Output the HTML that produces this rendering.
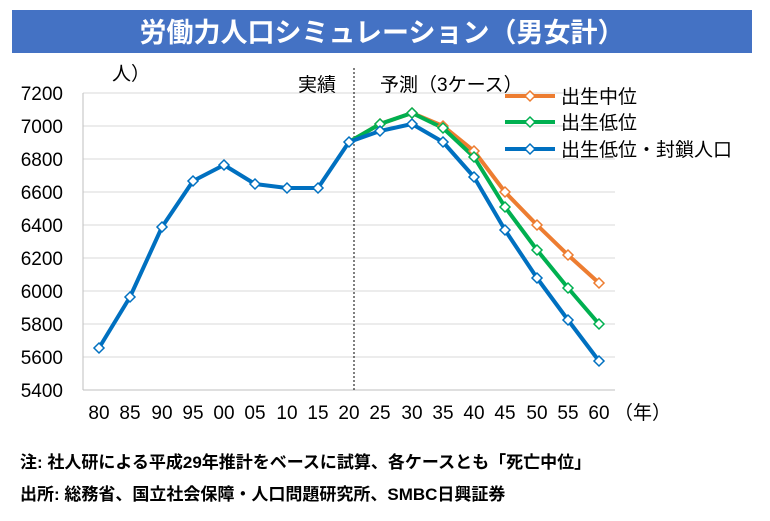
<!DOCTYPE html>
<html><head><meta charset="utf-8"><style>
body{margin:0;width:770px;height:516px;background:#fff;overflow:hidden;font-family:"Liberation Sans","Noto Sans CJK JP",sans-serif}
</style></head><body>
<svg width="770" height="516" xmlns="http://www.w3.org/2000/svg" font-family="Liberation Sans, Noto Sans CJK JP, sans-serif">
<rect x="12" y="10" width="740" height="43" fill="#4472C4"/>
<text x="382" y="42" text-anchor="middle" font-size="27" font-weight="bold" fill="#fff">労働力人口シミュレーション（男女計）</text>
<g stroke="#d9d9d9" stroke-width="1">
<line x1="83" x2="615" y1="93" y2="93"/><line x1="83" x2="615" y1="126" y2="126"/><line x1="83" x2="615" y1="159" y2="159"/><line x1="83" x2="615" y1="192" y2="192"/><line x1="83" x2="615" y1="225" y2="225"/><line x1="83" x2="615" y1="258" y2="258"/><line x1="83" x2="615" y1="291" y2="291"/><line x1="83" x2="615" y1="324" y2="324"/><line x1="83" x2="615" y1="357" y2="357"/>
</g>
<line x1="83" x2="615" y1="390" y2="390" stroke="#bfbfbf"/>
<line x1="83" x2="83" y1="93" y2="390" stroke="#bfbfbf"/>
<line x1="354" x2="354" y1="68" y2="390" stroke="#000" stroke-dasharray="2,2"/>
<g font-size="19" fill="#000" text-anchor="end">
<text x="63" y="100">7200</text><text x="63" y="133">7000</text><text x="63" y="166">6800</text><text x="63" y="199">6600</text><text x="63" y="232">6400</text><text x="63" y="265">6200</text><text x="63" y="298">6000</text><text x="63" y="331">5800</text><text x="63" y="364">5600</text><text x="63" y="397">5400</text>
</g>
<g font-size="19" text-anchor="middle">
<text x="99" y="419">80</text><text x="130" y="419">85</text><text x="162" y="419">90</text><text x="193" y="419">95</text><text x="224" y="419">00</text><text x="255" y="419">05</text><text x="287" y="419">10</text><text x="318" y="419">15</text><text x="349" y="419">20</text><text x="380" y="419">25</text><text x="412" y="419">30</text><text x="443" y="419">35</text><text x="474" y="419">40</text><text x="505" y="419">45</text><text x="537" y="419">50</text><text x="568" y="419">55</text><text x="599" y="419">60</text>
</g>
<text x="614" y="419" font-size="19">（年）</text>
<text x="112" y="80" font-size="19">人）</text>
<text x="298" y="91" font-size="19">実績</text>
<text x="380" y="91" font-size="19">予測（3ケース）</text>
<g fill="none" stroke-width="4" stroke-linejoin="round">
<polyline stroke="#ED7D31" points="349,142 380,124 412,113 443,126 474,151 505,192 537,225 568,255 599,283"/>
<polyline stroke="#00B050" points="349,142 380,124 412,113 443,128 474,157 505,207 537,250 568,288 599,324"/>
<polyline stroke="#0070C0" points="99,348 130,297 162,227 193,181 224,165 255,184 287,188 318,188 349,142 380,131 412,124 443,142 474,177 505,230 537,278 568,320 599,361"/>
</g>
<g fill="#fff" stroke-width="1.5">
<g stroke="#ED7D31"><path d="M380 119l5 5-5 5-5-5z"/><path d="M412 108l5 5-5 5-5-5z"/><path d="M443 121l5 5-5 5-5-5z"/><path d="M474 146l5 5-5 5-5-5z"/><path d="M505 187l5 5-5 5-5-5z"/><path d="M537 220l5 5-5 5-5-5z"/><path d="M568 250l5 5-5 5-5-5z"/><path d="M599 278l5 5-5 5-5-5z"/></g>
<g stroke="#00B050"><path d="M380 119l5 5-5 5-5-5z"/><path d="M412 108l5 5-5 5-5-5z"/><path d="M443 123l5 5-5 5-5-5z"/><path d="M474 152l5 5-5 5-5-5z"/><path d="M505 202l5 5-5 5-5-5z"/><path d="M537 245l5 5-5 5-5-5z"/><path d="M568 283l5 5-5 5-5-5z"/><path d="M599 319l5 5-5 5-5-5z"/></g>
<g stroke="#0070C0"><path d="M99 343l5 5-5 5-5-5z"/><path d="M130 292l5 5-5 5-5-5z"/><path d="M162 222l5 5-5 5-5-5z"/><path d="M193 176l5 5-5 5-5-5z"/><path d="M224 160l5 5-5 5-5-5z"/><path d="M255 179l5 5-5 5-5-5z"/><path d="M287 183l5 5-5 5-5-5z"/><path d="M318 183l5 5-5 5-5-5z"/><path d="M349 137l5 5-5 5-5-5z"/><path d="M380 126l5 5-5 5-5-5z"/><path d="M412 119l5 5-5 5-5-5z"/><path d="M443 137l5 5-5 5-5-5z"/><path d="M474 172l5 5-5 5-5-5z"/><path d="M505 225l5 5-5 5-5-5z"/><path d="M537 273l5 5-5 5-5-5z"/><path d="M568 315l5 5-5 5-5-5z"/><path d="M599 356l5 5-5 5-5-5z"/></g>
</g>
<g stroke-width="4"><line x1="505" x2="555" y1="96" y2="96" stroke="#ED7D31"/><line x1="505" x2="555" y1="122" y2="122" stroke="#00B050"/><line x1="505" x2="555" y1="149" y2="149" stroke="#0070C0"/></g>
<g fill="#fff" stroke-width="1.5"><path d="M530 91l5 5-5 5-5-5z" stroke="#ED7D31"/><path d="M530 117l5 5-5 5-5-5z" stroke="#00B050"/><path d="M530 144l5 5-5 5-5-5z" stroke="#0070C0"/></g>
<g font-size="19"><text x="561" y="103">出生中位</text><text x="561" y="129">出生低位</text><text x="561" y="156">出生低位・封鎖人口</text></g>
<text x="20" y="468" font-size="17" font-weight="bold">注: 社人研による平成29年推計をベースに試算、各ケースとも「死亡中位」</text>
<text x="20" y="500" font-size="17" font-weight="bold">出所: 総務省、国立社会保障・人口問題研究所、SMBC日興証券</text>
</svg>
</body></html>
